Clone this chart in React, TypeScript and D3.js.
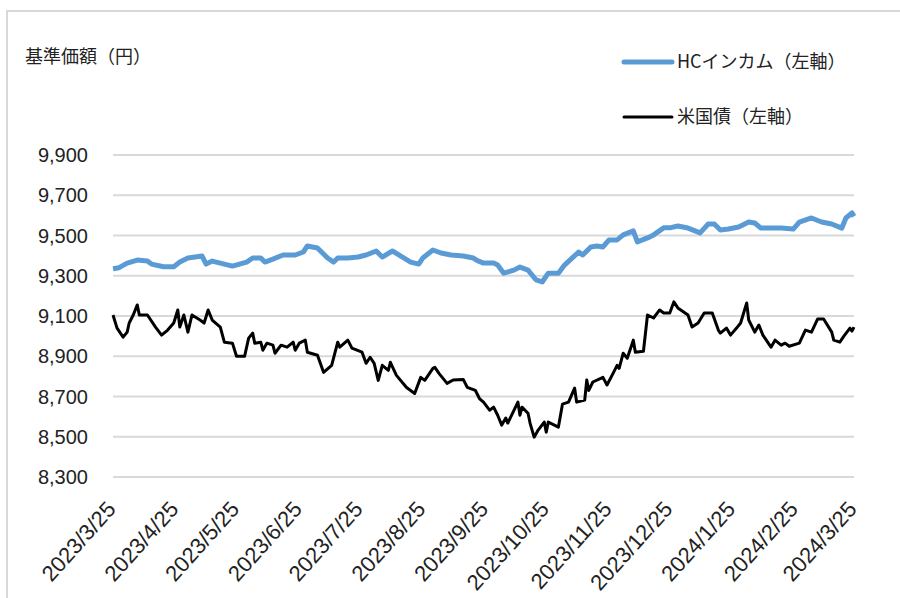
import React, { useEffect, useRef } from 'react';
import * as d3 from 'd3';

// HCインカム (blue)
const hcDates = [
    '2023-03-25', '2023-03-28', '2023-04-01', '2023-04-06', '2023-04-11', '2023-04-13', '2023-04-19', '2023-04-24',
    '2023-04-27', '2023-05-01', '2023-05-08', '2023-05-10', '2023-05-13', '2023-05-17', '2023-05-23', '2023-05-30',
    '2023-06-02', '2023-06-06', '2023-06-08', '2023-06-12', '2023-06-17', '2023-06-23', '2023-06-27', '2023-06-29',
    '2023-07-04', '2023-07-06', '2023-07-09', '2023-07-12', '2023-07-14', '2023-07-19', '2023-07-24', '2023-07-28',
    '2023-08-02', '2023-08-05', '2023-08-10', '2023-08-15', '2023-08-19', '2023-08-23', '2023-08-25', '2023-08-30',
    '2023-09-03', '2023-09-08', '2023-09-14', '2023-09-19', '2023-09-21', '2023-09-24', '2023-09-29', '2023-10-01',
    '2023-10-04', '2023-10-09', '2023-10-12', '2023-10-16', '2023-10-20', '2023-10-23', '2023-10-26', '2023-10-31',
    '2023-11-03', '2023-11-10', '2023-11-12', '2023-11-16', '2023-11-19', '2023-11-22', '2023-11-25', '2023-11-29',
    '2023-12-02', '2023-12-07', '2023-12-09', '2023-12-14', '2023-12-17', '2023-12-22', '2023-12-25', '2023-12-29',
    '2024-01-03', '2024-01-09', '2024-01-13', '2024-01-16', '2024-01-19', '2024-01-23', '2024-01-28', '2024-02-02',
    '2024-02-05', '2024-02-08', '2024-02-13', '2024-02-18', '2024-02-24', '2024-02-27', '2024-03-04', '2024-03-09',
    '2024-03-14', '2024-03-19', '2024-03-21', '2024-03-24', '2024-03-25',
];
const hcValues = [
    9335, 9340, 9363, 9378, 9373, 9358, 9345, 9345,
    9368, 9388, 9398, 9358, 9373, 9363, 9348, 9368,
    9388, 9388, 9368, 9383, 9403, 9403, 9418, 9448,
    9438, 9418, 9388, 9368, 9388, 9388, 9393, 9403,
    9423, 9393, 9423, 9393, 9368, 9358, 9388, 9428,
    9413, 9403, 9398, 9388, 9375, 9363, 9363, 9353,
    9313, 9328, 9343, 9328, 9279, 9269, 9313, 9313,
    9353, 9418, 9403, 9443, 9448, 9443, 9478, 9478,
    9503, 9523, 9468, 9488, 9503, 9538, 9538, 9547,
    9537, 9513, 9557, 9557, 9527, 9532, 9542, 9567,
    9562, 9537, 9537, 9537, 9532, 9567, 9587, 9567,
    9557, 9537, 9587, 9612, 9595,
];

// 米国債 (black)
const ustDates = [
    '2023-03-25', '2023-03-27', '2023-03-30', '2023-04-01', '2023-04-02', '2023-04-04', '2023-04-06', '2023-04-07',
    '2023-04-11', '2023-04-15', '2023-04-18', '2023-04-21', '2023-04-24', '2023-04-26', '2023-04-27', '2023-04-29',
    '2023-05-01', '2023-05-03', '2023-05-07', '2023-05-09', '2023-05-11', '2023-05-13', '2023-05-17', '2023-05-19',
    '2023-05-23', '2023-05-25', '2023-05-29', '2023-05-31', '2023-06-02', '2023-06-03', '2023-06-06', '2023-06-07',
    '2023-06-09', '2023-06-12', '2023-06-13', '2023-06-16', '2023-06-19', '2023-06-22', '2023-06-23', '2023-06-25',
    '2023-06-28', '2023-06-29', '2023-07-04', '2023-07-07', '2023-07-11', '2023-07-14', '2023-07-15', '2023-07-19',
    '2023-07-21', '2023-07-26', '2023-07-28', '2023-07-30', '2023-08-01', '2023-08-03', '2023-08-05', '2023-08-08',
    '2023-08-09', '2023-08-12', '2023-08-17', '2023-08-21', '2023-08-24', '2023-08-26', '2023-08-30', '2023-08-31',
    '2023-09-02', '2023-09-06', '2023-09-09', '2023-09-14', '2023-09-16', '2023-09-20', '2023-09-22', '2023-09-24',
    '2023-09-27', '2023-09-29', '2023-10-01', '2023-10-03', '2023-10-05', '2023-10-06', '2023-10-11', '2023-10-12',
    '2023-10-13', '2023-10-16', '2023-10-17', '2023-10-19', '2023-10-21', '2023-10-24', '2023-10-25', '2023-10-26',
    '2023-10-31', '2023-11-02', '2023-11-05', '2023-11-08', '2023-11-09', '2023-11-13', '2023-11-14', '2023-11-15',
    '2023-11-17', '2023-11-22', '2023-11-24', '2023-11-27', '2023-11-29', '2023-11-30', '2023-12-02', '2023-12-04',
    '2023-12-07', '2023-12-08', '2023-12-12', '2023-12-14', '2023-12-17', '2023-12-20', '2023-12-22', '2023-12-25',
    '2023-12-27', '2023-12-29', '2024-01-03', '2024-01-05', '2024-01-08', '2024-01-11', '2024-01-15', '2024-01-18',
    '2024-01-19', '2024-01-22', '2024-01-24', '2024-01-27', '2024-01-29', '2024-02-01', '2024-02-02', '2024-02-05',
    '2024-02-07', '2024-02-09', '2024-02-13', '2024-02-15', '2024-02-18', '2024-02-20', '2024-02-22', '2024-02-27',
    '2024-03-01', '2024-03-04', '2024-03-07', '2024-03-10', '2024-03-14', '2024-03-15', '2024-03-18', '2024-03-20',
    '2024-03-23', '2024-03-24', '2024-03-25',
];
const ustValues = [
    9105, 9040, 8995, 9020, 9065, 9105, 9155, 9105,
    9105, 9045, 9005, 9030, 9065, 9130, 9045, 9105,
    9020, 9105, 9080, 9065, 9130, 9080, 9045, 8970,
    8965, 8900, 8900, 8990, 9015, 8965, 8970, 8930,
    8965, 8955, 8915, 8955, 8945, 8970, 8930, 8965,
    8980, 8920, 8905, 8820, 8855, 8970, 8945, 8980,
    8940, 8920, 8865, 8895, 8865, 8780, 8855, 8830,
    8870, 8805, 8745, 8715, 8795, 8780, 8840, 8845,
    8815, 8765, 8782, 8785, 8745, 8730, 8690, 8672,
    8632, 8647, 8607, 8558, 8593, 8568, 8672, 8607,
    8647, 8617, 8568, 8498, 8533, 8573, 8523, 8573,
    8548, 8662, 8672, 8742, 8672, 8682, 8782, 8730,
    8772, 8795, 8757, 8815, 8855, 8840, 8915, 8890,
    8980, 8920, 8925, 9105, 9090, 9130, 9115, 9115,
    9170, 9140, 9105, 9045, 9065, 9115, 9115, 9030,
    9015, 9040, 9005, 9040, 9065, 9165, 9080, 9020,
    9055, 9005, 8945, 8980, 8955, 8965, 8950, 8965,
    9030, 9020, 9085, 9085, 9020, 8980, 8970, 9000,
    9040, 9025, 9045,
];

const yTicks = [8300, 8500, 8700, 8900, 9100, 9300, 9500, 9700, 9900];
const xTickDates = [
    '2023-03-25', '2023-04-25', '2023-05-25', '2023-06-25', '2023-07-25', '2023-08-25', '2023-09-25',
    '2023-10-25', '2023-11-25', '2023-12-25', '2024-01-25', '2024-02-25', '2024-03-25',
];

const seriesNames = ['HCインカム（左軸）', '米国債（左軸）'];
const seriesColors = ['#5b9bd5', '#000000'];

const JP_FONT = '"Noto Sans CJK JP", sans-serif';
const NUM_FONT = '"Liberation Sans", Arial, sans-serif';

const App: React.FC = () => {
    const svgRef = useRef<SVGSVGElement>(null);

    useEffect(() => {
        if (!svgRef.current) return;
        const svg = d3.select(svgRef.current);
        svg.selectAll('*').remove();

        const parse = d3.timeParse('%Y-%m-%d');
        const left = 113, right = 854, top = 155, bottom = 477;

        const x = d3.scaleTime()
            .domain([parse('2023-03-25')!, parse('2024-03-25')!])
            .range([left, right]);
        const y = d3.scaleLinear()
            .domain([8300, 9900])
            .range([bottom, top]);

        // Outer frame (cropped at right and bottom)
        svg.append('rect')
            .attr('x', 7).attr('y', 11)
            .attr('width', 1000).attr('height', 1000)
            .attr('fill', 'none')
            .attr('stroke', '#d9d9d9')
            .attr('stroke-width', 2);

        // Gridlines
        svg.append('g')
            .selectAll('line')
            .data(yTicks)
            .enter()
            .append('line')
            .attr('x1', left).attr('x2', right)
            .attr('y1', d => y(d)).attr('y2', d => y(d))
            .attr('stroke', '#d9d9d9')
            .attr('stroke-width', 2);

        // Y labels
        svg.append('g')
            .selectAll('text')
            .data(yTicks)
            .enter()
            .append('text')
            .attr('x', 88)
            .attr('y', d => y(d))
            .attr('dy', '0.36em')
            .attr('text-anchor', 'end')
            .style('font-family', NUM_FONT)
            .style('font-size', '20px')
            .style('fill', '#222')
            .text(d => d3.format(',')(d));

        // X labels, rotated
        svg.append('g')
            .selectAll('text')
            .data(xTickDates)
            .enter()
            .append('text')
            .attr('transform', d => `translate(${x(parse(d)!) + 4},${510}) rotate(-48)`)
            .attr('text-anchor', 'end')
            .style('font-family', NUM_FONT)
            .style('font-size', '22px')
            .style('fill', '#222')
            .text(d => {
                const dt = parse(d)!;
                return `${dt.getFullYear()}/${dt.getMonth() + 1}/${dt.getDate()}`;
            });

        const line = d3.line<[Date, number]>()
            .x(d => x(d[0]))
            .y(d => y(d[1]));

        const ustData: [Date, number][] = ustDates.map((d, i) => [parse(d)!, ustValues[i]]);
        const hcData: [Date, number][] = hcDates.map((d, i) => [parse(d)!, hcValues[i]]);

        svg.append('path')
            .datum(ustData)
            .attr('d', line)
            .attr('fill', 'none')
            .attr('stroke', seriesColors[1])
            .attr('stroke-width', 3)
            .attr('stroke-linejoin', 'round');

        svg.append('path')
            .datum(hcData)
            .attr('d', line)
            .attr('fill', 'none')
            .attr('stroke', seriesColors[0])
            .attr('stroke-width', 5)
            .attr('stroke-linejoin', 'round');

        // Axis title
        svg.append('text')
            .attr('x', 25)
            .attr('y', 63)
            .style('font-family', JP_FONT)
            .style('font-size', '18px')
            .style('fill', '#222')
            .text('基準価額（円）');

        // Legend
        const legend = svg.append('g');
        const legendY = [62, 117];
        seriesNames.forEach((name, i) => {
            legend.append('line')
                .attr('x1', 624).attr('x2', 672)
                .attr('y1', legendY[i]).attr('y2', legendY[i])
                .attr('stroke', seriesColors[i])
                .attr('stroke-width', i === 0 ? 5 : 3)
                .attr('stroke-linecap', 'round');
            legend.append('text')
                .attr('x', 677)
                .attr('y', legendY[i])
                .attr('dy', '0.36em')
                .style('font-family', JP_FONT)
                .style('font-size', '18px')
                .style('fill', '#222')
                .text(name);
        });
    }, []);

    return (
        <svg
            ref={svgRef}
            width={900}
            height={598}
            style={{ position: 'absolute', left: 0, top: 0, background: '#fff' }}
        />
    );
};

export default App;
